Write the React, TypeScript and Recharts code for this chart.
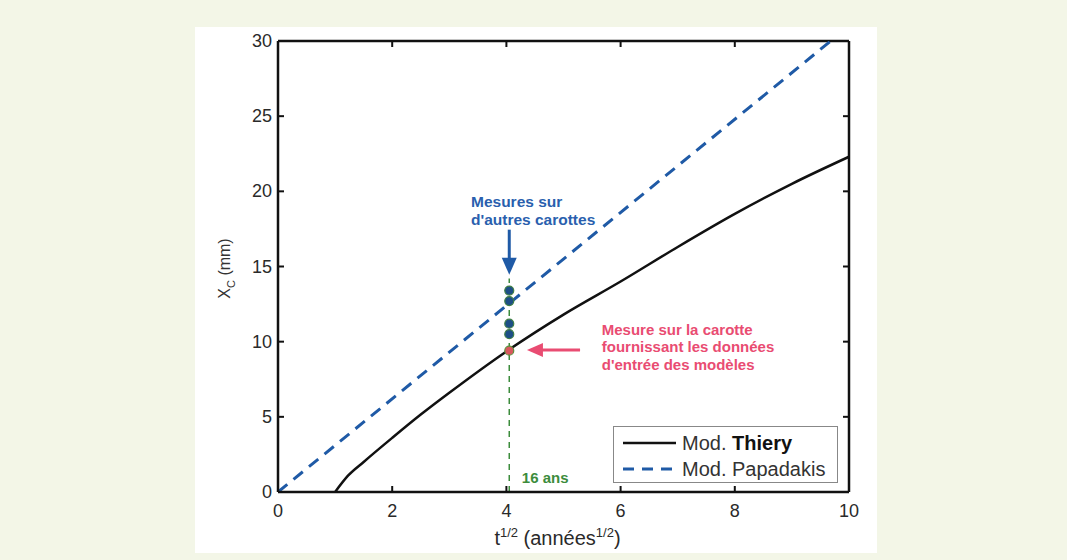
import React from 'react';
import {
  ComposedChart, Line, Scatter, XAxis, YAxis, Legend, ReferenceLine, ReferenceDot, Label,
} from 'recharts';

// Mod. Thiery
const thieryT = [1, 1.23, 1.5, 2, 2.5, 3, 4, 5, 6, 7, 8, 9, 10];
const thieryX = [0, 1.1, 2.0, 3.6, 5.15, 6.6, 9.35, 11.8, 14.0, 16.3, 18.5, 20.5, 22.3];
// Mod. Papadakis
const papaT = [0, 9.68];
const papaX = [0, 30];
// Measurements
const measureT = 4.05;
const otherCores = [13.4, 12.7, 11.2, 10.5];
const refCore = [9.4];

const xTicks = [0, 2, 4, 6, 8, 10];
const yTicks = [0, 5, 10, 15, 20, 25, 30];

const thieryData = thieryT.map((t, i) => ({ t, x: thieryX[i] }));
const papaData = papaT.map((t, i) => ({ t, x: papaX[i] }));
const otherData = otherCores.map((x) => ({ t: measureT, x }));
const refData = refCore.map((x) => ({ t: measureT, x }));

const FONT = '"Liberation Sans", Arial, sans-serif';
const PLOT_W = 571;
const PLOT_H = 451;
const TICK = 6;

const XTick = (props: any) => {
  const { x, y, payload } = props;
  return (
    <g>
      <line x1={x} y1={y} x2={x} y2={y - TICK} stroke="#111" strokeWidth={2} />
      <line x1={x} y1={y - PLOT_H} x2={x} y2={y - PLOT_H + TICK} stroke="#111" strokeWidth={2} />
      <text x={x} y={y + 25} textAnchor="middle" fontSize={18} fill="#2a2a2a" fontFamily={FONT}>{payload.value}</text>
    </g>
  );
};

const YTick = (props: any) => {
  const { x, y, payload } = props;
  return (
    <g>
      <line x1={x} y1={y} x2={x + TICK} y2={y} stroke="#111" strokeWidth={2} />
      <line x1={x + PLOT_W} y1={y} x2={x + PLOT_W - TICK} y2={y} stroke="#111" strokeWidth={2} />
      <text x={x - 6} y={y + 6} textAnchor="end" fontSize={18} fill="#2a2a2a" fontFamily={FONT}>{payload.value}</text>
    </g>
  );
};

const blueDot = (p: any) => (
  <circle cx={p.cx} cy={p.cy} r={4.5} fill="#1d4f86" stroke="#3f7f45" strokeWidth={1.2} />
);
const redDot = (p: any) => (
  <circle cx={p.cx} cy={p.cy} r={4.5} fill="#d8585e" stroke="#5f8f3f" strokeWidth={1.2} />
);

const textShape = (lines: string[], color: string, size: number, lh: number) => (p: any) => (
  <text x={p.cx} y={p.cy} fontSize={size} fontWeight="bold" fill={color} fontFamily={FONT}>
    {lines.map((l, i) => (
      <tspan key={i} x={p.cx} dy={i === 0 ? 0 : lh}>{l}</tspan>
    ))}
  </text>
);

const downHead = (color: string) => (p: any) => (
  <polygon points={`${p.cx - 7.5},${p.cy - 17} ${p.cx + 7.5},${p.cy - 17} ${p.cx},${p.cy}`} fill={color} />
);
const leftHead = (color: string) => (p: any) => (
  <polygon points={`${p.cx + 16},${p.cy - 7} ${p.cx + 16},${p.cy + 7} ${p.cx},${p.cy}`} fill={color} />
);

const renderLegend = () => (
  <div style={{ width: 225, height: 57, border: '1px solid #888', background: '#fff', boxSizing: 'border-box', fontFamily: FONT, fontSize: 20, color: '#333', lineHeight: '26px' }}>
    <div style={{ display: 'flex', alignItems: 'center', height: 27, marginTop: 2 }}>
      <svg width={68} height={10}><line x1={9} y1={5} x2={62} y2={5} stroke="#111" strokeWidth={2.5} /></svg>
      <span>Mod. <b style={{ color: '#111' }}>Thiery</b></span>
    </div>
    <div style={{ display: 'flex', alignItems: 'center', height: 26 }}>
      <svg width={68} height={10}><line x1={9} y1={5} x2={62} y2={5} stroke="#1f5aa6" strokeWidth={3} strokeDasharray="11 8" /></svg>
      <span>Mod. Papadakis</span>
    </div>
  </div>
);

const YLabel = () => {
  const cx = 35;
  const cy = 14 + PLOT_H / 2 + 2;
  return (
    <text transform={`translate(${cx},${cy}) rotate(-90)`} textAnchor="middle" fontSize={16} fill="#333" fontFamily={FONT}>
      X<tspan fontSize={11} dy={5}>C</tspan><tspan dy={-5}> (mm)</tspan>
    </text>
  );
};

const XLabel = () => {
  const cx = 83 + PLOT_W / 2 - 6;
  const cy = 518;
  return (
    <text x={cx} y={cy} textAnchor="middle" fontSize={20} fill="#2a2a2a" fontFamily={FONT}>
      t<tspan fontSize={13} dy={-8}>1/2</tspan><tspan dy={8}> (années</tspan><tspan fontSize={13} dy={-8}>1/2</tspan><tspan dy={8}>)</tspan>
    </text>
  );
};

export default function App() {
  return (
    <div style={{ position: 'fixed', left: 0, top: 0, width: 1067, height: 560, background: '#f3f6e7' }}>
      <div style={{ position: 'absolute', left: 195, top: 27, width: 682, height: 526, background: '#fff' }}>
        <ComposedChart width={682} height={526} margin={{ top: 14, right: 28, left: 0, bottom: 0 }}>
          <XAxis
            dataKey="t" type="number" domain={[0, 10]} ticks={xTicks} height={61}
            axisLine={{ stroke: '#111', strokeWidth: 2.5 }} tickLine={false} tickSize={0} tickMargin={0}
            tick={<XTick />} allowDataOverflow
          >
            <Label content={<XLabel />} />
          </XAxis>
          <YAxis
            type="number" domain={[0, 30]} ticks={yTicks} width={83}
            axisLine={{ stroke: '#111', strokeWidth: 2.5 }} tickLine={false} tickSize={0} tickMargin={0}
            tick={<YTick />} allowDataOverflow
          >
            <Label content={<YLabel />} />
          </YAxis>
          <ReferenceLine y={30} stroke="#111" strokeWidth={2.5} />
          <ReferenceLine x={10} stroke="#111" strokeWidth={2.5} />
          <ReferenceLine segment={[{ x: measureT, y: 0 }, { x: measureT, y: 14.2 }]} stroke="#3c8c3c" strokeWidth={1.5} strokeDasharray="6 5" />
          <Line data={papaData} dataKey="x" type="linear" stroke="#1f5aa6" strokeWidth={3} strokeDasharray="12 8" dot={false} isAnimationActive={false} />
          <Line data={thieryData} dataKey="x" type="monotone" stroke="#111" strokeWidth={2.5} dot={false} isAnimationActive={false} />
          <Scatter data={otherData} dataKey="x" shape={blueDot} isAnimationActive={false} />
          <Scatter data={refData} dataKey="x" shape={redDot} isAnimationActive={false} />
          <ReferenceLine segment={[{ x: measureT, y: 17.45 }, { x: measureT, y: 15.4 }]} stroke="#1f5aa6" strokeWidth={3} />
          <ReferenceDot x={measureT} y={14.45} r={0} shape={downHead('#1f5aa6')} />
          <ReferenceLine segment={[{ x: 5.29, y: 9.45 }, { x: 4.55, y: 9.45 }]} stroke="#e94c72" strokeWidth={3} />
          <ReferenceDot x={4.36} y={9.45} r={0} shape={leftHead('#e94c72')} />
          <ReferenceDot x={3.38} y={18.95} r={0} shape={textShape(['Mesures sur', "d'autres carottes"], '#2a5fae', 15.5, 18)} />
          <ReferenceDot x={5.67} y={10.45} r={0} shape={textShape(['Mesure sur la carotte', 'fournissant les données', "d'entrée des modèles"], '#e94c72', 15, 17.5)} />
          <ReferenceDot x={4.27} y={0.6} r={0} shape={textShape(['16 ans'], '#3c8c3c', 15, 0)} />
          <Legend
            layout="horizontal" verticalAlign="middle" align="center"
            content={renderLegend}
            wrapperStyle={{ position: 'absolute', left: 418, top: 399, width: 225, height: 57 }}
          />
        </ComposedChart>
      </div>
    </div>
  );
}
